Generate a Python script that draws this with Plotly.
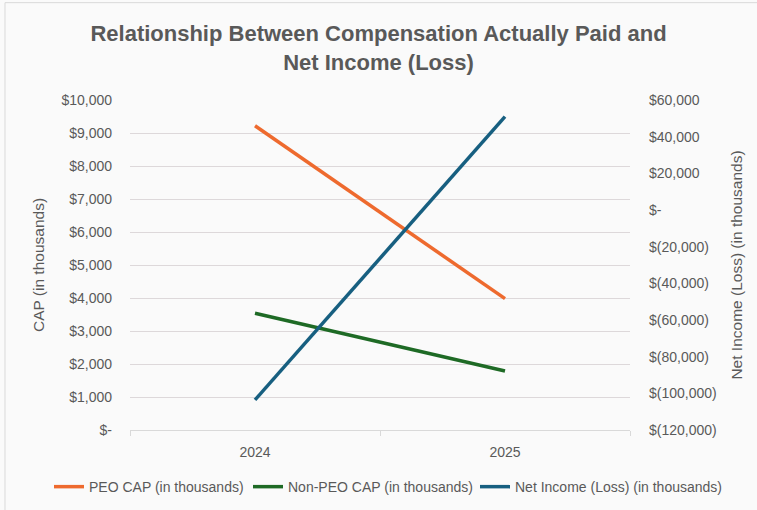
import plotly.graph_objects as go

years = ["2024", "2025"]
peo_cap = [9220, 3980]
non_peo_cap = [3540, 1790]
net_income = [-103600, 50900]

left_ticks = list(range(0, 10001, 1000))
right_ticks = list(range(-120000, 60001, 20000))


def fmt(v):
    if v == 0:
        return "$-"
    if v < 0:
        return "$({:,})".format(-v)
    return "${:,}".format(v)


FONT = "Liberation Sans"
GREY = "#595959"

fig = go.Figure()
fig.add_trace(go.Scatter(x=years, y=peo_cap, name="PEO CAP (in thousands)", mode="lines",
                         line=dict(color="#EE6A2E", width=3.5), legend="legend"))
fig.add_trace(go.Scatter(x=years, y=non_peo_cap, name="Non-PEO CAP (in thousands)", mode="lines",
                         line=dict(color="#1E6A25", width=3.5), legend="legend2"))
fig.add_trace(go.Scatter(x=years, y=net_income, name="Net Income (Loss) (in thousands)", mode="lines",
                         line=dict(color="#175F80", width=3.5), yaxis="y2", legend="legend3"))


def leg(xpx):
    return dict(orientation="h", xref="container", x=xpx / 757, xanchor="left",
                yref="container", y=0.045, yanchor="middle", bgcolor="rgba(0,0,0,0)",
                font=dict(size=14, color=GREY), itemwidth=30)


fig.update_layout(
    width=757, height=510,
    margin=dict(l=130, r=127, t=100, b=80, autoexpand=False),
    paper_bgcolor="#FAFAFA", plot_bgcolor="#FAFAFA",
    font=dict(family=FONT, color=GREY, size=14),
    title=dict(text="<b>Relationship Between Compensation Actually Paid and<br>Net Income (Loss)</b>",
               x=0.5, xanchor="center", y=0.919, yanchor="top",
               font=dict(family=FONT, size=22, color=GREY)),
    xaxis=dict(type="category", range=[-0.5, 1.5], tickson="boundaries", ticks="outside",
               ticklen=5, tickcolor="#D9D9D9", showline=True, linecolor="#D9D9D9", linewidth=1,
               showgrid=False, tickfont=dict(size=14, color=GREY), ticklabelstandoff=9),
    yaxis=dict(range=[0, 10000], tickvals=left_ticks, ticktext=[fmt(v) for v in left_ticks],
               showgrid=True, gridcolor="#DDD8DA", gridwidth=1, zeroline=False,
               title=dict(text="CAP (in thousands)", standoff=12, font=dict(size=15.5, color=GREY)),
               tickfont=dict(size=14, color=GREY), ticklabelstandoff=17),
    yaxis2=dict(range=[-120000, 60000], tickvals=right_ticks, ticktext=[fmt(v) for v in right_ticks],
                overlaying="y", side="right", showgrid=False, zeroline=False,
                title=dict(text="Net Income (Loss) (in thousands)", standoff=15, font=dict(size=15.5, color=GREY)),
                tickfont=dict(size=14, color=GREY), ticklabelstandoff=18),
    legend=leg(49),
    legend2=leg(248),
    legend3=leg(475),
    showlegend=True,
)

fig.add_shape(type="rect", xref="paper", yref="paper", x0=-0.25, x1=1.3, y0=-0.5, y1=1.295,
              line=dict(color="#D9D9D9", width=1), fillcolor="rgba(0,0,0,0)", layer="below")

fig.write_html("out.html")
